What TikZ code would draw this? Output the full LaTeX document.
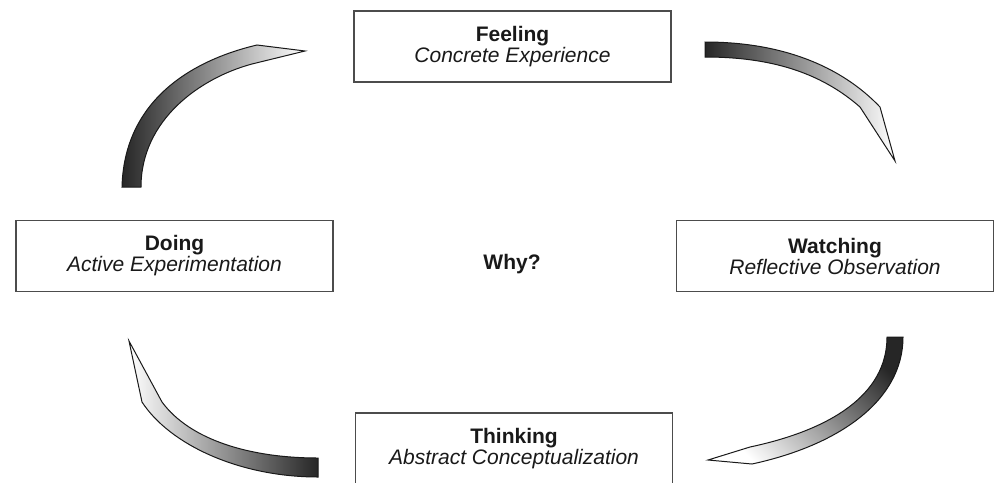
\documentclass[tikz,border=0pt]{standalone}
\usepackage{fontspec}
\setmainfont{Liberation Sans}
\usepackage{tikz}
\usetikzlibrary{calc,positioning}

\begin{document}
\begin{tikzpicture}[x=0.5pt,y=-0.5pt,
  box/.style={draw=black!70, line width=0.8pt, minimum width=158.5pt,
    minimum height=35.5pt, align=center, text=black!90,
    font=\fontsize{10.5}{10.5}\selectfont},
  band/.style={draw=black!90, line width=0.5pt}]
  \useasboundingbox (0,0) rectangle (994,482);
  % the four stages
  \node[box] (feel) at (512.5,46.5) {\textbf{Feeling}\\\textit{Concrete Experience}};
  \node[box] (watch) at (835,256) {\textbf{Watching}\\\textit{Reflective Observation}};
  \node[box] (think) at (514,448.5) {\textbf{Thinking}\\\textit{Abstract Conceptualization}};
  \node[box] (do) at (174.5,256) {\textbf{Doing}\\\textit{Active Experimentation}};
  \node[text=black!90, font=\fontsize{10.5}{10.5}\selectfont\bfseries] (why) at (512,264) {Why?};
  % doing -> feeling
  \shadedraw[band, left color=black!85, right color=white]
    (122,187) .. controls (124,105) and (185,62) .. (257,45) -- (305,51)
    -- (252,64) .. controls (200,78) and (141,120) .. (141,187) -- cycle;
  % feeling -> watching
  \shadedraw[band, left color=black!85, right color=white]
    (705,42) .. controls (780,42) and (840,65) .. (880,107) -- (895,161)
    -- (860,107) .. controls (820,72) and (770,57) .. (705,57) -- cycle;
  % watching -> thinking
  \shadedraw[band, top color=black!85, bottom color=white, shading angle=-45]
    (903,337) .. controls (903,400) and (840,445) .. (752,464) -- (708,460)
    -- (750,447) .. controls (830,430) and (887,395) .. (887,337) -- cycle;
  % thinking -> doing
  \shadedraw[band, left color=white, right color=black!85]
    (318,477) .. controls (240,477) and (170,445) .. (142,402) -- (129,341)
    -- (162,402) .. controls (190,440) and (250,458) .. (318,458) -- cycle;
\end{tikzpicture}
\end{document}
